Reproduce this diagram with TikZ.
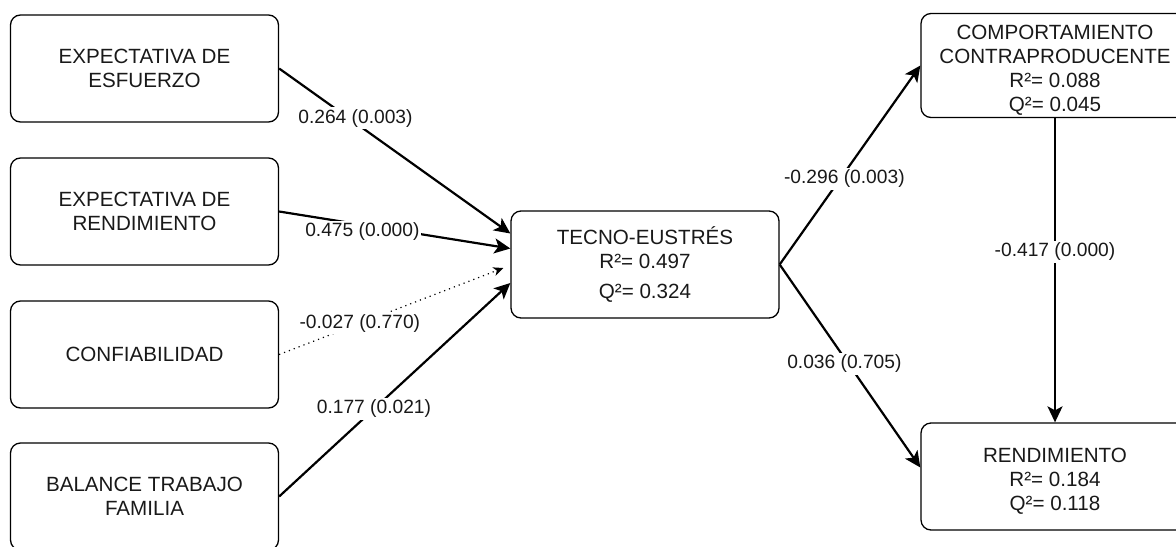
\documentclass[tikz,border=0pt]{standalone}
\usepackage{fontspec}
\setmainfont{Liberation Sans}
\usetikzlibrary{arrows.meta,calc}

\begin{document}
\begin{tikzpicture}[x=0.5pt,y=-0.5pt,
  box/.style={draw, rounded corners=5pt, line width=0.65pt,
    minimum width=134pt, minimum height=53.5pt, align=center,
    inner sep=0pt, text=black!90, font=\fontsize{10.3}{12}\selectfont},
  boxtext/.style={align=center, inner sep=0pt, text=black!90,
    font=\fontsize{10.3}{12}\selectfont},
  effect/.style={line width=1.1pt, -{Stealth[length=8pt,width=7.5pt,inset=2pt]}},
  weak/.style={line width=0.6pt, dotted, -{Stealth[length=5pt,width=4.5pt,inset=1.5pt]}},
  coef/.style={fill=white, inner sep=1pt, text=black!90, font=\fontsize{9.6}{11}\selectfont}]
\clip (0,0) rectangle (1176,546);

% exogenous constructs
\node[box] (esf)  at (144.5,68.5)  {EXPECTATIVA DE\\ESFUERZO};
\node[box] (rend) at (144.5,211.5) {EXPECTATIVA DE\\RENDIMIENTO};
\node[box] (conf) at (144.5,354.5) {CONFIABILIDAD};
\node[box] (bal)  at (144.5,496.5) {BALANCE TRABAJO\\FAMILIA};

% mediator
\node[box] (tecno) at (645,264.5) {TECNO-EUSTRÉS\\R²= 0.497\\[3pt]Q²= 0.324};

% outcomes (boxes, then their centred captions)
\node[box, minimum height=52pt] (comp) at (1055,65.5) {};
\node[boxtext] (comptext) at ($(comp.center)+(0,5)$)
  {COMPORTAMIENTO\\CONTRAPRODUCENTE\\R²= 0.088\\Q²= 0.045};
\node[box] (perf) at (1055,476.5) {};
\node[boxtext] (perftext) at ($(perf.center)+(0,5)$)
  {RENDIMIENTO\\R²= 0.184\\Q²= 0.118};

% structural paths
\draw[effect] (esf.east) -- ($(tecno.west)+(0,-31)$)
  node[coef, pos=0.33, yshift=2.3pt] {0.264 (0.003)};
\draw[effect] (rend.east) -- ($(tecno.west)+(0,-16)$)
  node[coef, pos=0.36, yshift=-3.5pt] {0.475 (0.000)};
\draw[weak] (conf.east) -- ($(tecno.west)+(-7,3.5)$)
  node[coef, pos=0.36] {-0.027 (0.770)};
\draw[effect] (bal.east) -- ($(tecno.west)+(0,18.5)$)
  node[coef, pos=0.41] {0.177 (0.021)};

\draw[effect] (tecno.east) -- (comp.west)
  node[coef, pos=0.46, yshift=-3pt] {-0.296 (0.003)};
\draw[effect] (tecno.east) -- ($(perf.west)+(0,-9)$)
  node[coef, pos=0.46, yshift=-3pt] {0.036 (0.705)};
\draw[effect] (comp.south) -- (perf.north)
  node[coef, pos=0.44] {-0.417 (0.000)};
\end{tikzpicture}
\end{document}
